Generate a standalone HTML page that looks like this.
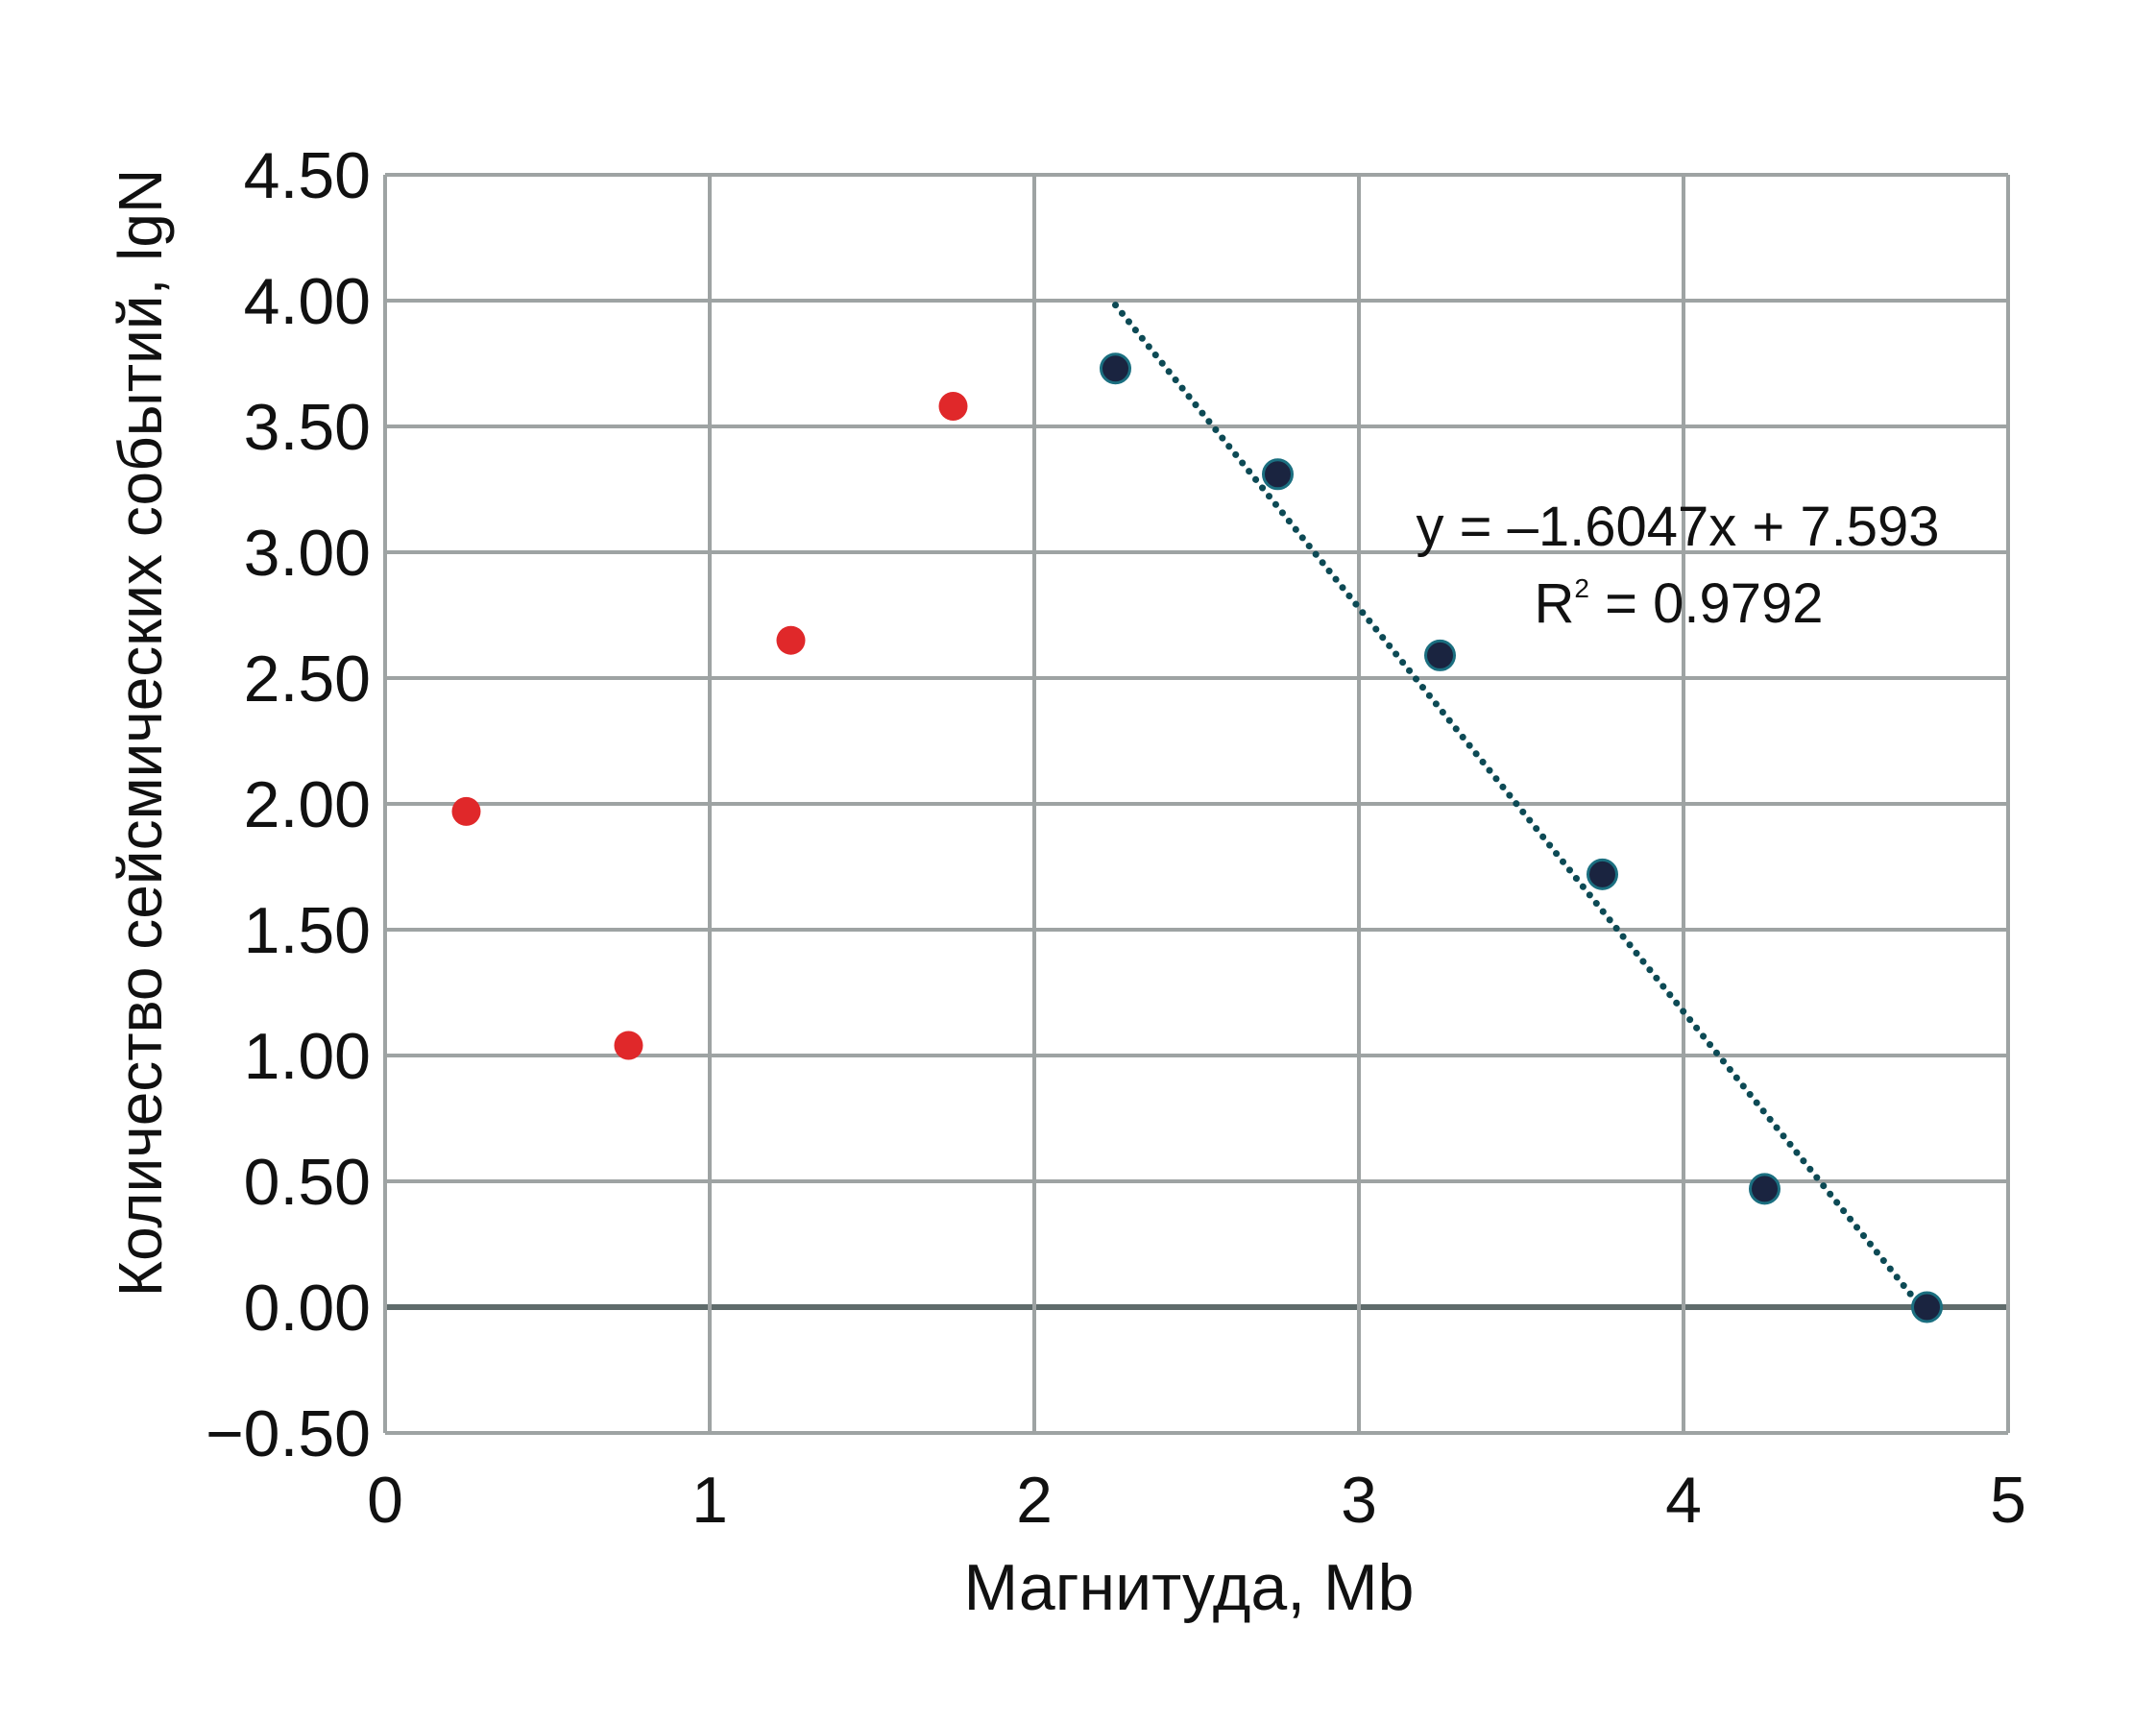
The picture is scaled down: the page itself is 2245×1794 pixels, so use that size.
<!DOCTYPE html>
<html><head><meta charset="utf-8"><style>
html,body{margin:0;padding:0;background:#fff}
svg{display:block}
text{font-family:"Liberation Sans",sans-serif;fill:#111}
</style></head><body>
<svg id="chart" width="2245" height="1794" viewBox="0 0 2245 1794">
<g id="grid"></g>
<g id="ticks"></g>
<g id="trend"></g>
<g id="marks"></g>
<text x="1747" y="568" font-size="58" text-anchor="middle">y = –1.6047x + 7.593</text>
<text x="1748" y="648" font-size="58" text-anchor="middle">R<tspan font-size="28" dy="-26">2</tspan><tspan dy="26"> = 0.9792</tspan></text>
<text x="1238" y="1676" font-size="68" text-anchor="middle">Магнитуда, Mb</text>
<text transform="translate(168,763) rotate(-90)" font-size="64" text-anchor="middle">Количество сейсмических событий, lgN</text>
</svg>
<script>
const xTicks=[0,1,2,3,4,5];
const yTicks=[-0.5,0,0.5,1,1.5,2,2.5,3,3.5,4,4.5];
const yTickLabels=["−0.50","0.00","0.50","1.00","1.50","2.00","2.50","3.00","3.50","4.00","4.50"];
const redX=[0.25,0.75,1.25,1.75];
const redY=[1.97,1.04,2.65,3.58];
const darkX=[2.25,2.75,3.25,3.75,4.25,4.75];
const darkY=[3.73,3.31,2.59,1.72,0.47,0.0];
const trendSlope=-1.6047, trendIntercept=7.593;
const L=401,R=2091,T=182,B=1492;
const sx=v=>L+(v-0)/(5-0)*(R-L);
const sy=v=>B-(v+0.5)/(4.5+0.5)*(B-T);
const NS="http://www.w3.org/2000/svg";
function mk(tag,parent,attrs){const e=document.createElementNS(NS,tag);for(const k in attrs)e.setAttribute(k,attrs[k]);parent.appendChild(e);return e;}
const grid=document.getElementById('grid'),ticks=document.getElementById('ticks'),marks=document.getElementById('marks'),trend=document.getElementById('trend');
yTicks.forEach((v,i)=>{
  const ln=mk('line',grid,{x1:L,x2:R,y1:sy(v),y2:sy(v),stroke:v===0?'#5f6b6b':'#9ea3a3','stroke-width':v===0?6:4});
  
  
  const t=mk('text',ticks,{x:386,y:sy(v)+24,'font-size':68,'text-anchor':'end'});
  t.textContent=yTickLabels[i];
  
  
});
xTicks.forEach(v=>{
  const ln=mk('line',grid,{x1:sx(v),x2:sx(v),y1:T,y2:B,stroke:'#9ea3a3','stroke-width':4});
  
  
  const t=mk('text',ticks,{x:sx(v),y:1585,'font-size':68,'text-anchor':'middle'});
  t.textContent=String(v);
  
  
});
const x0=darkX[0],x1=darkX[darkX.length-1];
const tl=mk('line',trend,{x1:sx(x0),y1:sy(trendSlope*x0+trendIntercept),x2:sx(x1),y2:sy(trendSlope*x1+trendIntercept),stroke:'#0d4a55','stroke-width':7,'stroke-dasharray':'0.1 11','stroke-linecap':'round'});


redX.forEach((x,i)=>{
  const c=mk('circle',marks,{cx:sx(x),cy:sy(redY[i]),r:15,fill:'#e0282a'});
  
  
});
darkX.forEach((x,i)=>{
  const c=mk('circle',marks,{cx:sx(x),cy:sy(darkY[i]),r:15,fill:'#1a2440',stroke:'#1b6f80','stroke-width':3});
  
  
});
</script>
</body></html>
